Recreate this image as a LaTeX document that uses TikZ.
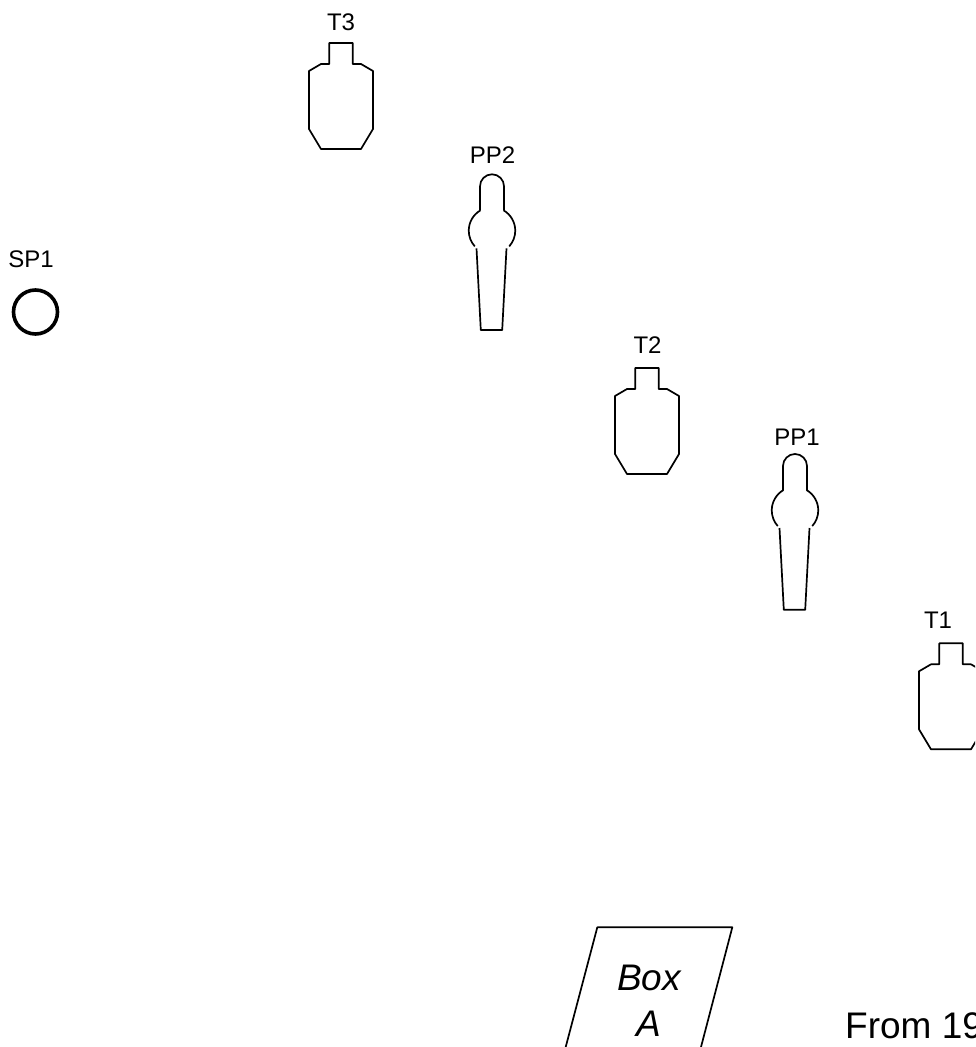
\documentclass[tikz,border=0pt]{standalone}
\usepackage{fontspec}
\setmainfont{Liberation Sans}
\usepackage{tikz}

\tikzset{
    outline/.style={draw, line width=1.7pt, line join=round},
    tag/.style={anchor=base, inner sep=0pt, font=\fontsize{24}{24}\selectfont},
    big/.style={inner sep=0pt, font=\fontsize{37}{46}\selectfont},
    pics/target/.style={code={
        \draw[outline] (-11.7,0) -- (11.7,0) -- (11.7,-21) -- (20,-21) -- (32,-28) -- (32,-86)
            -- (20,-106) -- (-20,-106) -- (-32,-86) -- (-32,-28) -- (-20,-21) -- (-11.7,-21) -- cycle;
    }},
    pics/popper/.style={code={
        \draw[outline] (-12,-36) -- (-12,-12) arc[start angle=180, end angle=0, radius=12] -- (12,-36);
        \draw[outline] (-11.5,-36) arc[start angle=120, end angle=222, radius=23.5];
        \draw[outline] (11.5,-36) arc[start angle=60, end angle=-42, radius=23.5];
        \draw[outline] (-15.5,-74) -- (-11.2,-155.7) -- (10.2,-155.7) -- (14.5,-74);
    }}
}

\begin{document}
\begin{tikzpicture}[x=1pt, y=1pt]
        \useasboundingbox (0,0) rectangle (975,-1047);
        \clip (0,0) rectangle (975,-1047);

        \pic at (341,-43) {target};
        \pic at (647,-368) {target};
        \pic at (951,-643.3) {target};
        \pic at (492,-174.3) {popper};
        \pic at (795,-454) {popper};

        \node[tag] (t3) at (341,-30) {T3};
        \node[tag] (pp2) at (492.5,-163) {PP2};
        \node[tag] (sp1) at (31,-267.7) {SP1};
        \node[tag] (t2) at (647.5,-353) {T2};
        \node[tag] (pp1) at (797,-445) {PP1};
        \node[tag] (t1) at (938,-628) {T1};

        \node[circle, draw, line width=3.6pt, inner sep=0pt, minimum size=44pt] (start) at (35.5,-312) {};

        \draw[outline] (565.7,-1047) -- (597.3,-927.3) -- (732.3,-927.3) -- (701,-1047);
        \node[big, anchor=base, align=center] (box) at (649,-1036) {\itshape Box\\\itshape A};
        \node[big, anchor=base west] (from) at (845,-1038) {From 19};
    \end{tikzpicture}
\end{document}
